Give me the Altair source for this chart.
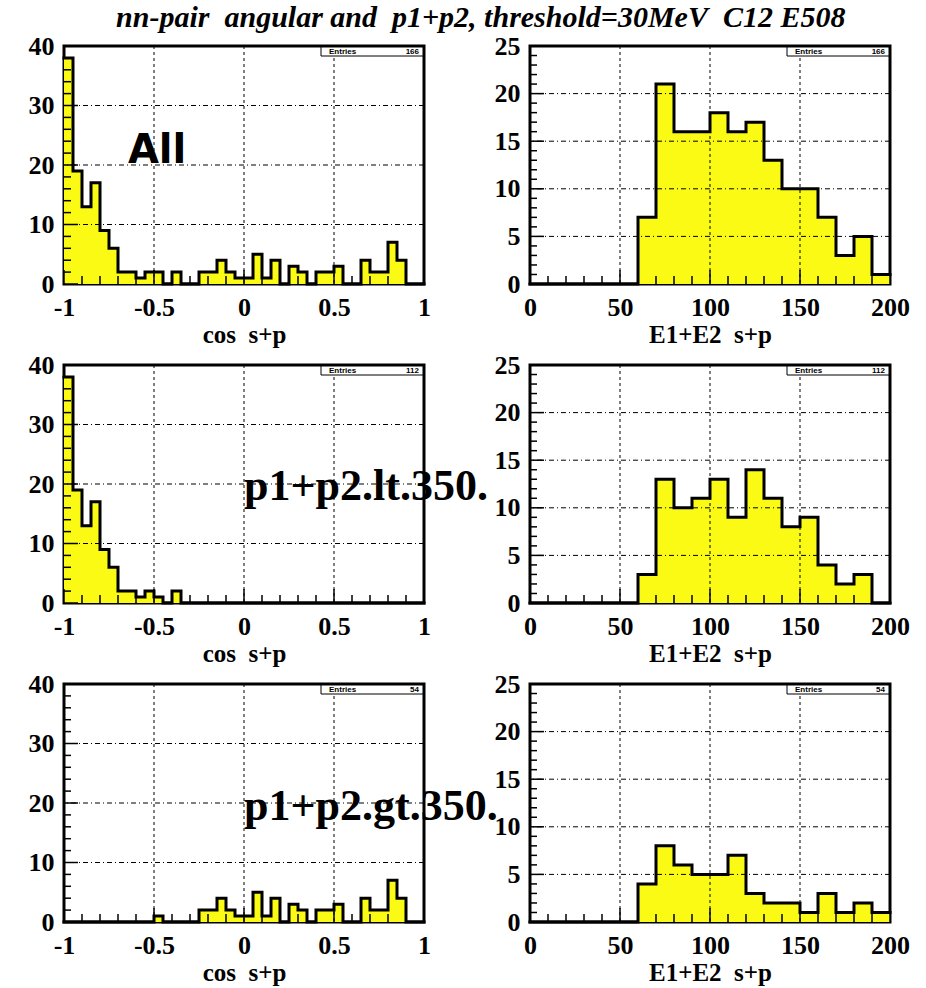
import altair as alt
import pandas as pd

# Histogram binning
COS_LO, COS_HI, COS_BIN = -1.0, 1.0, 0.05
E_LO, E_HI, E_BIN = 0.0, 200.0, 10.0

# cos(s+p) counts, 40 bins of 0.05 from -1 to 1
cos_all = [38, 19, 13, 17, 9, 6, 2, 2, 1, 2, 2, 0, 2, 0, 0, 2, 2, 4, 2, 1,
           1, 5, 1, 4, 0, 3, 2, 0, 2, 2, 3, 0, 0, 4, 2, 2, 7, 4, 0, 0]
cos_lt = [38, 19, 13, 17, 9, 6, 2, 2, 1, 2, 1, 0, 2, 0, 0, 0, 0, 0, 0, 0,
          0, 0, 0, 0, 0, 0, 0, 0, 0, 0, 0, 0, 0, 0, 0, 0, 0, 0, 0, 0]
cos_gt = [0, 0, 0, 0, 0, 0, 0, 0, 0, 0, 1, 0, 0, 0, 0, 2, 2, 4, 2, 1,
          1, 5, 1, 4, 0, 3, 2, 0, 2, 2, 3, 0, 0, 4, 2, 2, 7, 4, 0, 0]

# E1+E2 counts, 20 bins of 10 from 0 to 200
e_all = [0, 0, 0, 0, 0, 0, 7, 21, 16, 16, 18, 16, 17, 13, 10, 10, 7, 3, 5, 1]
e_lt = [0, 0, 0, 0, 0, 0, 3, 13, 10, 11, 13, 9, 14, 11, 8, 9, 4, 2, 3, 0]
e_gt = [0, 0, 0, 0, 0, 0, 4, 8, 6, 5, 5, 7, 3, 2, 2, 1, 3, 1, 2, 1]

entries = [166, 112, 54]
selections = ["All", "p1+p2.lt.350.", "p1+p2.gt.350."]

cos_major = [-1, -0.5, 0, 0.5, 1]
cos_count_major = [0, 10, 20, 30, 40]
e_major = [0, 50, 100, 150, 200]
e_count_major = [0, 5, 10, 15, 20, 25]

W, H = 360, 238
FILL = "#FAFA14"
SERIF = "Liberation Serif"
SANS = "Liberation Sans"


def step_points(counts, lo, width):
    xs = [lo + i * width for i in range(len(counts))] + [lo + len(counts) * width]
    ys = list(counts) + [counts[-1]]
    return pd.DataFrame({"x": xs, "y": ys, "i": list(range(len(xs)))})


def minor_positions(lo, hi, step, majors):
    n = int(round((hi - lo) / step))
    vals = [round(lo + k * step, 6) for k in range(1, n)]
    return [v for v in vals if all(abs(v - m) > 1e-9 for m in majors)]


def panel(counts, lo, hi, width, ymax, xmajor, ymajor, xminor_step, yminor_step,
          xtitle, n_entries, label=None, label_pos=None, label_style=None):
    xs = alt.Scale(domain=[lo, hi], nice=False, zero=False)
    ys = alt.Scale(domain=[0, ymax], nice=False)
    xaxis = alt.Axis(values=xmajor, title=xtitle,
                     labelExpr="datum.value < 0 ? '-' + format(-datum.value, '') : format(datum.value, '')")
    yaxis = alt.Axis(values=ymajor, title=None)

    def X(field="x"):
        return alt.X(f"{field}:Q", scale=xs, axis=xaxis)

    def Y(field="y"):
        return alt.Y(f"{field}:Q", scale=ys, axis=yaxis)

    hist = step_points(counts, lo, width)

    area = alt.Chart(hist).mark_area(interpolate="step-after", color=FILL).encode(
        x=X(), y=Y())

    vgrid = alt.Chart(pd.DataFrame({"x": xmajor[1:-1]})).mark_rule(
        color="black", strokeWidth=1, strokeDash=[3, 3]).encode(x=X())
    hgrid = alt.Chart(pd.DataFrame({"y": ymajor[1:-1]})).mark_rule(
        color="black", strokeWidth=1, strokeDash=[5, 3, 1, 3]).encode(y=Y())

    outline = alt.Chart(hist).mark_line(
        interpolate="step-after", color="black", strokeWidth=3,
        strokeJoin="miter", strokeCap="square").encode(
        x=X(), y=Y(), order="i:Q")

    xminor = minor_positions(lo, hi, xminor_step, xmajor)
    yminor = minor_positions(0, ymax, yminor_step, ymajor)

    xt_major = alt.Chart(pd.DataFrame({"x": xmajor})).mark_rule(
        color="black", strokeWidth=1.5).encode(
        x=X(), y=alt.value(H), y2=alt.value(H - 14))
    xt_minor = alt.Chart(pd.DataFrame({"x": xminor})).mark_rule(
        color="black", strokeWidth=1.5).encode(
        x=X(), y=alt.value(H), y2=alt.value(H - 8))
    yt_major = alt.Chart(pd.DataFrame({"y": ymajor})).mark_rule(
        color="black", strokeWidth=1.5).encode(
        y=Y(), x=alt.value(0), x2=alt.value(14))
    yt_minor = alt.Chart(pd.DataFrame({"y": yminor})).mark_rule(
        color="black", strokeWidth=1.5).encode(
        y=Y(), x=alt.value(0), x2=alt.value(7))

    stats = pd.DataFrame({"n": [str(n_entries)]})
    box = alt.Chart(stats).mark_rect(fill="white", stroke="black", strokeWidth=1).encode(
        x=alt.value(W - 103), x2=alt.value(W - 1), y=alt.value(1), y2=alt.value(10))
    box_key = alt.Chart(stats).mark_text(
        align="left", baseline="middle", font=SANS, fontWeight="bold",
        fontSize=8, color="black").encode(
        x=alt.value(W - 95), y=alt.value(5.5), text=alt.value("Entries"))
    box_val = alt.Chart(stats).mark_text(
        align="right", baseline="middle", font=SANS, fontWeight="bold",
        fontSize=8, color="black").encode(
        x=alt.value(W - 5), y=alt.value(5.5), text="n:N")

    layers = [area, vgrid, hgrid, outline, xt_major, xt_minor, yt_major, yt_minor,
              box, box_key, box_val]

    if label is not None:
        lab = pd.DataFrame({"x": [label_pos[0]], "y": [label_pos[1]], "t": [label]})
        layers.append(alt.Chart(lab).mark_text(
            align="left", baseline="alphabetic", color="black", **label_style).encode(
            x=X(), y=Y(), text="t:N"))

    return alt.layer(*layers).properties(width=W, height=H)


all_style = dict(font="DejaVu Sans", fontWeight="bold", fontSize=40)
cut_style = dict(font=SERIF, fontWeight="bold", fontSize=44)

cos_title = "cos\u00a0 s+p"
e_title = "E1+E2\u00a0 s+p"

panels = [
    panel(cos_all, COS_LO, COS_HI, COS_BIN, 40, cos_major, cos_count_major, 0.1, 2,
          cos_title, entries[0], selections[0], (-0.645, 20.3), all_style),
    panel(e_all, E_LO, E_HI, E_BIN, 25, e_major, e_count_major, 10, 1,
          e_title, entries[0]),
    panel(cos_lt, COS_LO, COS_HI, COS_BIN, 40, cos_major, cos_count_major, 0.1, 2,
          cos_title, entries[1], selections[1], (0.0, 17.3), cut_style),
    panel(e_lt, E_LO, E_HI, E_BIN, 25, e_major, e_count_major, 10, 1,
          e_title, entries[1]),
    panel(cos_gt, COS_LO, COS_HI, COS_BIN, 40, cos_major, cos_count_major, 0.1, 2,
          cos_title, entries[2], selections[2], (0.0, 17.1), cut_style),
    panel(e_gt, E_LO, E_HI, E_BIN, 25, e_major, e_count_major, 10, 1,
          e_title, entries[2]),
]

chart = alt.concat(
    *panels, columns=2, spacing={"row": 81, "column": 106}, bounds="flush",
    title=alt.TitleParams(
        text="nn-pair\u00a0 angular and\u00a0 p1+p2, threshold=30MeV\u00a0 C12 E508",
        font=SERIF, fontStyle="italic", fontWeight="bold", fontSize=30,
        color="black", anchor="middle", offset=-1, dx=12),
).properties(
    padding={"left": 26, "top": 2, "right": 10, "bottom": 6},
    background="white",
).configure_view(
    stroke="black", strokeWidth=3,
).configure_axis(
    labelFont=SERIF, labelFontWeight="bold", labelFontSize=26, labelColor="black",
    titleFont=SERIF, titleFontWeight="bold", titleFontSize=25, titleColor="black",
    ticks=False, domain=False, grid=False, labelPadding=10, titlePadding=2,
    labelFlush=False, labelOverlap=False,
)

chart.save("out.html", embed_options={"renderer": "svg", "actions": False})
